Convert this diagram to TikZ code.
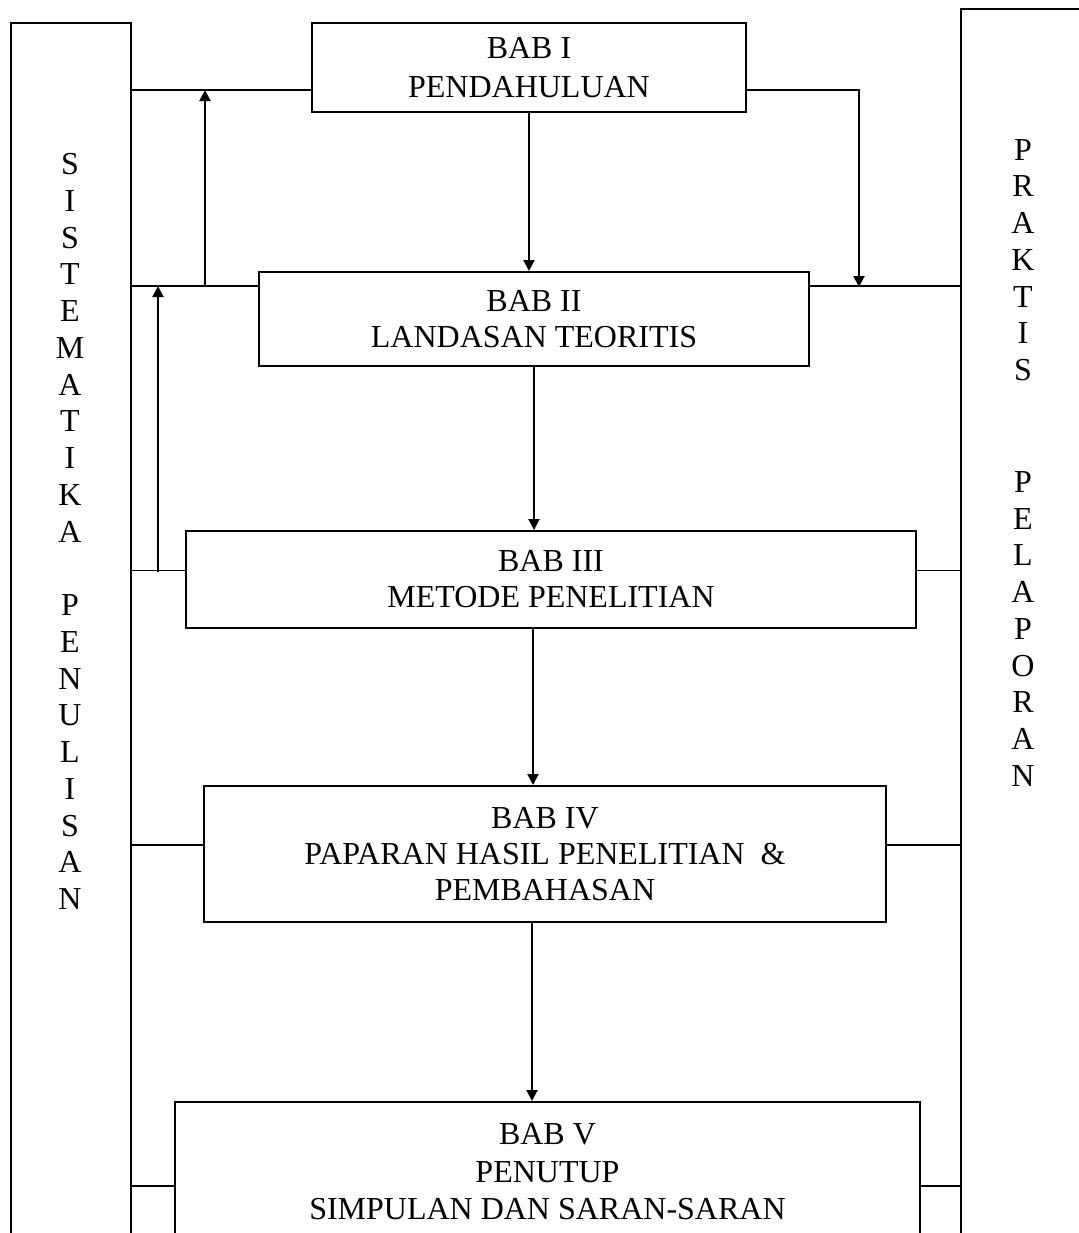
\documentclass[tikz,border=0pt]{standalone}
\usepackage{fontspec}
\setmainfont{Liberation Serif}
\usetikzlibrary{arrows.meta,calc}
\begin{document}
\begin{tikzpicture}[x=0.5pt,y=-0.5pt,
 box/.style={draw,line width=1pt,rectangle,inner sep=0pt,align=center,font=\fontsize{16}{18}\selectfont},
 panel/.style={draw,line width=0.9pt,rectangle,inner sep=0pt},
 link/.style={line width=0.95pt},
 arr/.style={line width=1pt,-{Triangle[length=5.5pt,width=5.5pt]}},
 vtext/.style={align=center,inner sep=0pt,font=\fontsize{16}{18.375}\selectfont}]
\useasboundingbox (0,0) rectangle (1079,1233);
\clip (0,0) rectangle (1079,1233);
% side panels
\node[panel,minimum width=60pt,minimum height=660pt] (L) at (71,683) {};
\node[panel,minimum width=80pt,minimum height=680pt] (R) at (1041,689) {};
\node[vtext] (lt) at (70,531.5) {S\\I\\S\\T\\E\\M\\A\\T\\I\\K\\A\\[18.375pt]P\\E\\N\\U\\L\\I\\S\\A\\N};
\node[vtext] (rt1) at (1023,260) {P\\R\\A\\K\\T\\I\\S};
\node[vtext] (rt2) at (1023,629) {P\\E\\L\\A\\P\\O\\R\\A\\N};
% chapter boxes
\node[box,minimum width=217pt,minimum height=44.5pt,font=\fontsize{16}{19.5}\selectfont] (b1) at (529,67.5) {BAB I\\PENDAHULUAN};
\node[box,minimum width=275pt,minimum height=47pt] (b2) at (534,319) {BAB II\\LANDASAN TEORITIS};
\node[box,minimum width=365pt,minimum height=48.5pt] (b3) at (551,579.5) {BAB III\\METODE PENELITIAN};
\node[box,minimum width=341pt,minimum height=68pt] (b4) at (545,854) {BAB IV\\PAPARAN HASIL PENELITIAN~~\&\\PEMBAHASAN};
\node[box,minimum width=372.5pt,minimum height=70pt,font=\fontsize{16}{18.75}\selectfont] (b5) at (547.5,1172) {BAB V\\PENUTUP\\SIMPULAN DAN SARAN-SARAN};
% junction points
\coordinate (p1) at ([yshift=11.5pt]b1.south west);
\coordinate (q1) at ([yshift=11.5pt]b1.south east);
\coordinate (p2) at ([yshift=-7.5pt]b2.north west);
\coordinate (q2) at ([yshift=-7.5pt]b2.north east);
\coordinate (p3) at ([yshift=-20.25pt]b3.north west);
\coordinate (q3) at ([yshift=-20.25pt]b3.north east);
\coordinate (p4) at ([yshift=-30pt]b4.north west);
\coordinate (q4) at ([yshift=-30pt]b4.north east);
\coordinate (p5) at ([yshift=-42.5pt]b5.north west);
\coordinate (q5) at ([yshift=-42.5pt]b5.north east);
\coordinate (j1) at (205,287);
\coordinate (j2) at (158,572);
\coordinate (m2) at (859,287);
% horizontal links to the panels
\draw[link] (p1 -| L.east) -- (p1);
\draw[link] (p2 -| L.east) -- (p2);
\draw[link] (q2) -- (q2 -| R.west);
\draw[link] (p3 -| L.east) -- (p3);
\draw[link] (q3) -- (q3 -| R.west);
\draw[link] (p4 -| L.east) -- (p4);
\draw[link] (q4) -- (q4 -| R.west);
\draw[link] (p5 -| L.east) -- (p5);
\draw[link] (q5) -- (q5 -| R.west);
% arrows
\draw[arr] (j1) -- (j1 |- p1);
\draw[arr] (j2) -- (j2 |- p2);
\draw[arr] (q1) -| (m2);
\draw[arr] (b1.south) -- (b1.south |- b2.north);
\draw[arr] (b2.south) -- (b2.south |- b3.north);
\draw[arr] ([xshift=-9pt]b3.south) -- ([xshift=-9pt]b3.south |- b4.north);
\draw[arr] ([xshift=-6.5pt]b4.south) -- ([xshift=-6.5pt]b4.south |- b5.north);
\end{tikzpicture}
\end{document}
